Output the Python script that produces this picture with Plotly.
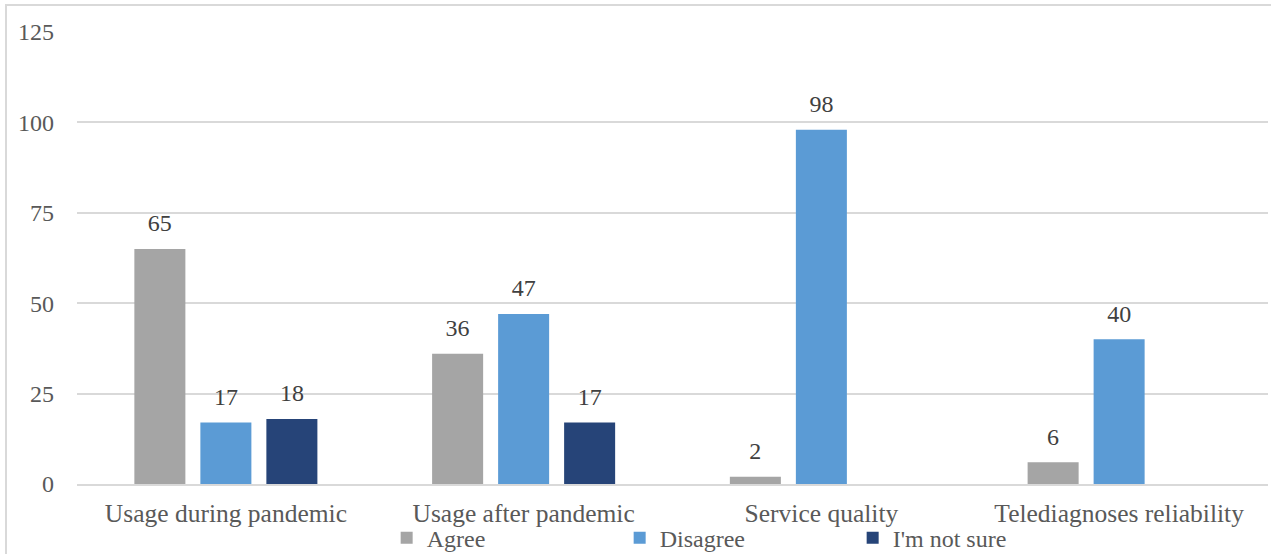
import plotly.graph_objects as go

categories = ["Usage during pandemic", "Usage after pandemic", "Service quality", "Telediagnoses reliability"]
agree = [65, 36, 2, 6]
disagree = [17, 47, 98, 40]
not_sure = [18, 17, 0, None]
series_names = ["Agree", "Disagree", "I'm not sure"]
tick_values = [0, 25, 50, 75, 100, 125]

colors = ["#a5a5a5", "#5b9bd5", "#264478"]
font_family = "Liberation Serif"

fig = go.Figure()
for i, (name, vals, col) in enumerate(zip(series_names, [agree, disagree, not_sure], colors)):
    fig.add_trace(go.Bar(
        name=name, x=categories, y=vals, marker=dict(color=col, line=dict(width=0)),
        offsetgroup=str(i),
    ))

# value labels sit on invisible markers so they float a little above each bar
for i, (name, vals) in enumerate(zip(series_names, [agree, disagree, not_sure])):
    labels = [("" if (v is None or v == 0) else str(v)) for v in vals]
    fig.add_trace(go.Scatter(
        x=categories, y=vals, mode="markers+text", text=labels,
        textposition="top center", offsetgroup=str(i), showlegend=False,
        marker=dict(size=17, opacity=0), cliponaxis=False, hoverinfo="skip",
        textfont=dict(family=font_family, size=24, color="#404040"),
    ))

fig.update_layout(
    width=1271, height=554,
    margin=dict(l=77, r=3, t=32, b=70, autoexpand=False),
    paper_bgcolor="white", plot_bgcolor="white",
    barmode="group", bargap=0.335, bargroupgap=0.227,
    scattermode="group", scattergap=0.335,
    font=dict(family=font_family, size=24, color="#595959"),
    showlegend=True,
    legend=dict(orientation="h", x=0.26, xanchor="left", y=-0.12, yanchor="middle",
                entrywidth=188, entrywidthmode="pixels", itemwidth=30,
                font=dict(family=font_family, size=24, color="#595959"),
                bgcolor="rgba(0,0,0,0)"),
    yaxis=dict(range=[0, 125], tickvals=tick_values, showgrid=True, gridcolor="#d9d9d9",
               gridwidth=1.5, zeroline=False, showline=False, ticks="", automargin=False,
               ticklabelstandoff=22, tickfont=dict(family=font_family, size=24, color="#595959")),
    xaxis=dict(showline=True, linecolor="#d9d9d9", linewidth=1.5, ticks="", automargin=False,
               ticklabelstandoff=6, tickfont=dict(family=font_family, size=25.5, color="#595959")),
    shapes=[dict(type="rect", xref="paper", yref="paper",
                 x0=-0.0596, x1=1.2, y0=-0.5, y1=1.0597,
                 line=dict(color="#d9d9d9", width=2), layer="below")],
)

fig.write_html("out.html")
